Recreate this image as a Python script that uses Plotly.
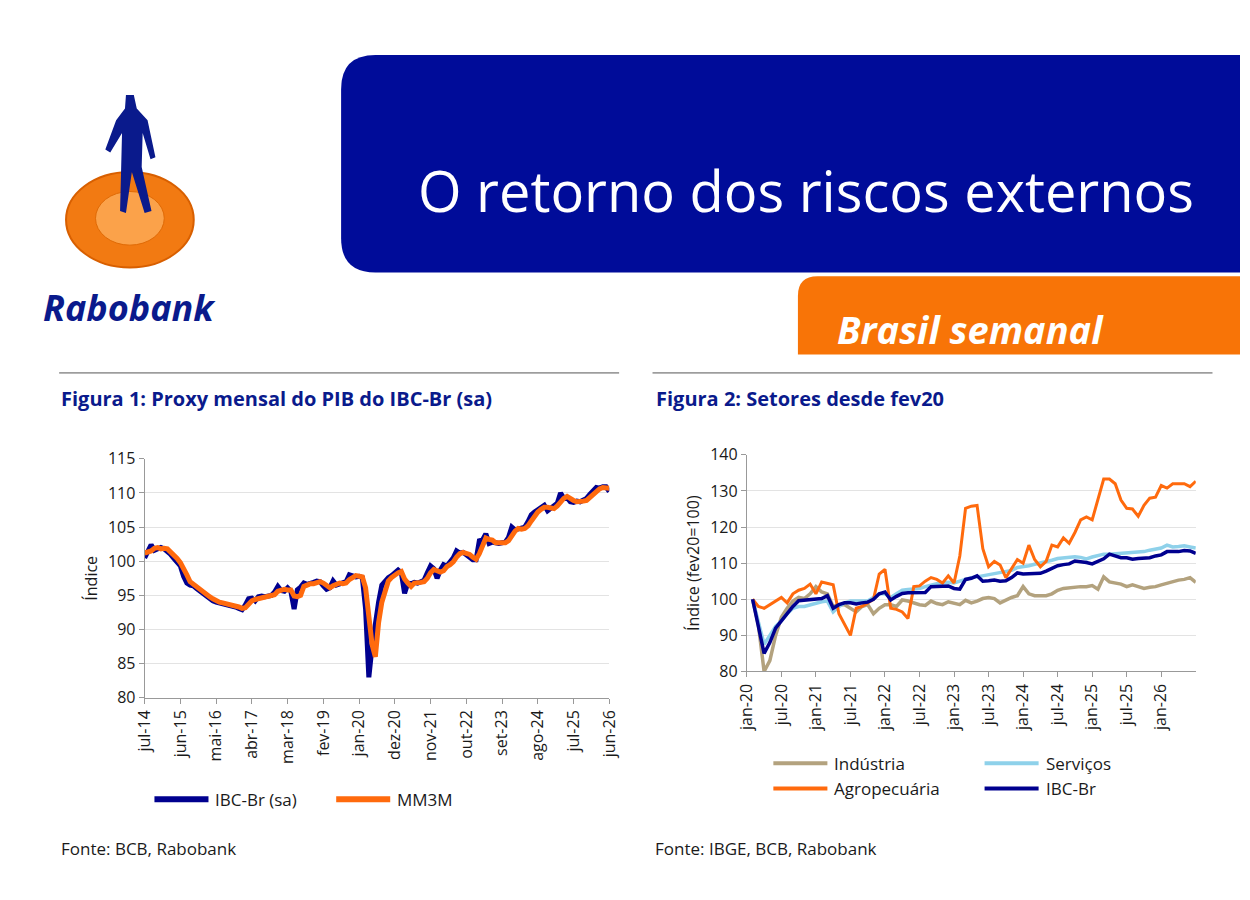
import plotly.graph_objects as go

W, H = 1250, 900
def px(x): return x / W
def py(y): return 1 - y / H

# ---------- Figure 1 data ----------
f1_ticklabels = ["jul-14","jun-15","mai-16","abr-17","mar-18","fev-19","jan-20","dez-20","nov-21","out-22","set-23","ago-24","jul-25","jun-26"]
ibc_sa = [100.5,101.6,102.4,101.6,101.9,102.0,101.8,101.5,101.0,100.4,99.8,99.3,
          97.8,96.8,96.5,96.4,96.0,95.6,95.2,94.8,94.5,94.2,94.0,93.9,
          93.8,93.7,93.5,93.4,93.3,93.1,92.9,93.6,94.5,94.6,94.2,94.8,
          94.9,94.8,94.9,95.0,95.5,96.3,95.7,95.6,96.1,95.6,93.0,95.8,
          96.2,96.8,96.6,96.7,96.9,97.1,97.0,96.4,95.9,96.1,97.1,96.5,
          96.7,96.8,97.0,98.0,97.9,97.7,97.8,97.6,93.0,83.0,87.5,91.5,
          94.0,96.5,97.2,97.6,97.9,98.4,98.7,98.3,95.3,96.8,96.7,96.9,
          96.8,97.0,97.2,98.3,99.3,98.9,97.5,98.7,99.5,99.3,99.8,100.5,
          101.5,101.2,101.3,101.0,100.6,100.2,100.2,103.0,103.1,104.0,102.6,102.8,
          102.7,102.6,102.7,102.8,103.5,105.0,104.6,104.7,104.8,105.0,105.8,106.8,
          107.2,107.6,108.0,108.2,107.4,107.8,108.0,108.5,110.0,109.2,109.3,108.7,
          108.6,108.8,108.7,108.9,109.2,109.8,110.3,110.8,110.7,110.9,110.9,110.2]
mm3m = [101.2,101.3,101.5,101.9,102.0,101.8,101.9,101.8,101.4,101.0,100.4,99.8,
        99.0,98.0,97.0,96.6,96.3,96.0,95.6,95.2,94.8,94.5,94.2,94.0,
        93.9,93.8,93.7,93.5,93.4,93.3,93.1,93.2,93.7,94.2,94.4,94.5,
        94.6,94.8,94.9,94.9,95.1,95.6,95.8,95.9,95.8,95.8,94.9,94.8,
        95.0,96.3,96.5,96.7,96.7,96.9,97.0,96.8,96.4,96.1,96.4,96.6,
        96.8,96.7,96.8,97.3,97.6,97.9,97.8,97.7,96.1,91.2,87.8,86.0,
        91.0,94.0,95.9,97.1,97.6,98.0,98.3,98.5,97.4,96.8,96.3,96.8,
        96.8,96.9,97.0,97.5,98.3,98.8,98.6,98.4,98.6,99.2,99.5,99.9,
        100.6,101.1,101.3,101.2,101.0,100.6,100.3,101.1,102.1,103.4,103.2,103.1,
        102.7,102.7,102.7,102.7,103.0,103.8,104.4,104.8,104.7,104.8,105.2,105.9,
        106.6,107.2,107.6,107.9,107.9,107.8,107.7,108.1,108.8,109.2,109.5,109.1,
        108.9,108.7,108.7,108.8,108.9,109.3,109.8,110.3,110.6,110.8,110.8,110.7]
f1_x = list(range(len(ibc_sa)))
f1_tickvals = [i * 11 for i in range(len(f1_ticklabels))]

# ---------- Figure 2 data (months since jan-20, starting fev-20) ----------
f2_ticklabels = ["jan-20","jul-20","jan-21","jul-21","jan-22","jul-22","jan-23","jul-23","jan-24","jul-24","jan-25","jul-25","jan-26"]
f2_tickvals = [i * 6 for i in range(len(f2_ticklabels))]
industria = [100,93,80,83,90,95,97.5,99.5,100.5,100.2,101.5,103.5,
             102,101.5,98,98.5,98.5,97.5,96.5,98,98.5,96,97.5,98.5,
             98.5,98,99.8,99.5,99,98.5,98.3,99.5,98.8,98.5,99.3,98.8,
             98.5,99.7,99,99.5,100.2,100.5,100.2,99,99.8,100.5,101,103.5,
             101.5,101,101,101,101.5,102.5,103,103.2,103.2,103.5,103.5,103.8,
             102.8,106.2,104.8,104.5,104.2,103.5,104,103.5,103,103.3,103.5,104,
             104.5,105,105.3,105.5,106,104.7]
servicos = [100,94,87.5,90,92.5,94,96,97.5,98,98,98.5,99,
            99.3,99.5,96.5,98,99,99.5,99.5,99.3,99.5,100.5,101.5,101.5,
            100.5,101.5,102.5,102.7,102.8,103,103.5,104,104.3,104.5,104.7,104.5,
            105,105.5,106,106.2,106.5,106.8,107,107.2,107.5,108,108.8,109,
            109.3,109.7,110,110.3,110.8,111.3,111.5,111.7,111.8,111.6,111.2,111.7,
            112.2,112.5,112.5,112.6,112.8,112.7,112.9,113,113.2,113.6,113.8,114.2,
            115,114.5,114.6,114.8,114.5,114.2]
agro = [100,98,97.5,98.5,99.5,100.5,99,101.5,102.5,103,104.2,101.5,
        104.8,104.5,104,96,93,90,97.5,98,99,100,107,108.3,
        97.5,97.2,96.5,94.7,103.5,103.7,105,106,105.5,104.5,106.5,104.5,
        112,125.2,125.8,126,114,109,110.5,109.5,106,108.5,111,110,
        115,111,109,110.5,115,114.5,117,115.5,118.5,122,122.8,122,
        128,133.3,133.3,132,127.5,125.2,125,123,126,128,128.3,131.5,
        130.8,132,132,132,131.2,132.7]
ibc = [100,93,85,88,92,94,96,98,99.6,99.8,99.9,100,
       100.2,101,97.5,98.5,99,99,98.7,99,99.2,100,101.5,102,
       99.8,100.8,101.6,101.8,101.8,101.8,101.9,103.5,103.5,103.6,103.7,103.0,
       102.8,105.5,105.8,106.5,105,105.1,105.3,105,105.1,106,107.3,107,
       107.1,107.2,107.2,107.8,108.5,109.3,109.6,109.8,110.6,110.5,110.2,109.8,
       110.6,111.2,112.5,112,111.5,111.5,111.1,111.3,111.4,111.5,112,112.3,
       113.2,113.1,113.2,113.5,113.4,112.7]
f2_x = list(range(1, len(ibc) + 1))

BLUE = "#00008F"; ORANGE = "#FF6A0D"; TAN = "#B3A27E"; LBLUE = "#8ED1EA"
TXT = "#1a1a1a"; FONT = "Open Sans"

fig = go.Figure()
fig.add_trace(go.Scatter(x=f1_x, y=ibc_sa, mode="lines", line=dict(color=BLUE, width=5), xaxis="x", yaxis="y", showlegend=False))
fig.add_trace(go.Scatter(x=f1_x, y=mm3m, mode="lines", line=dict(color=ORANGE, width=5), xaxis="x", yaxis="y", showlegend=False))
fig.add_trace(go.Scatter(x=f2_x, y=industria, mode="lines", line=dict(color=TAN, width=3.5), xaxis="x2", yaxis="y2", showlegend=False))
fig.add_trace(go.Scatter(x=f2_x, y=servicos, mode="lines", line=dict(color=LBLUE, width=3.5), xaxis="x2", yaxis="y2", showlegend=False))
fig.add_trace(go.Scatter(x=f2_x, y=agro, mode="lines", line=dict(color=ORANGE, width=3), xaxis="x2", yaxis="y2", showlegend=False))
fig.add_trace(go.Scatter(x=f2_x, y=ibc, mode="lines", line=dict(color=BLUE, width=3.5), xaxis="x2", yaxis="y2", showlegend=False))

axcommon = dict(showline=True, linecolor="#999", ticks="outside", tickcolor="#999", ticklen=5, tickfont=dict(size=16, color=TXT, family=FONT))
fig.update_layout(
    autosize=True, margin=dict(l=0, r=0, t=0, b=0),
    paper_bgcolor="white", plot_bgcolor="white", font=dict(family=FONT, color=TXT),
    xaxis=dict(domain=[px(135), px(608)], range=[0, 143], tickvals=f1_tickvals, ticktext=f1_ticklabels,
               tickangle=-90, showgrid=False, zeroline=False, **axcommon),
    yaxis=dict(domain=[py(704), py(459)], range=[80, 115], dtick=5, showgrid=True, gridcolor="#e3e3e3",
               zeroline=False, title=dict(text="Índice", font=dict(size=16, color=TXT), standoff=6), **axcommon),
    xaxis2=dict(domain=[px(748), px(1205)], range=[0, 78], tickvals=f2_tickvals, ticktext=f2_ticklabels,
                tickangle=-90, showgrid=False, zeroline=False, anchor="y2", **axcommon),
    yaxis2=dict(domain=[py(677), py(455)], range=[80, 140], dtick=10, showgrid=True, gridcolor="#e3e3e3",
                zeroline=False, anchor="x2", title=dict(text="Índice (fev20=100)", font=dict(size=16, color=TXT), standoff=6), **axcommon),
)

shapes = []
annos = []
# banner
shapes.append(dict(type="path", xref="paper", yref="paper",
    path=f"M {px(370)},{py(45)} L {px(1250)},{py(45)} L {px(1250)},{py(268)} L {px(370)},{py(268)} Q {px(335)},{py(268)} {px(335)},{py(233)} L {px(335)},{py(80)} Q {px(335)},{py(45)} {px(370)},{py(45)} Z",
    fillcolor="#000C99", line=dict(width=0)))
annos.append(dict(text="O retorno dos riscos externos", x=px(808), y=py(183), xref="paper", yref="paper",
    showarrow=False, font=dict(size=56, color="white", family="Open Sans"), xanchor="center", yanchor="middle"))
# orange tab
shapes.append(dict(type="path", xref="paper", yref="paper",
    path=f"M {px(820)},{py(272)} L {px(1250)},{py(272)} L {px(1250)},{py(352)} L {px(800)},{py(352)} L {px(800)},{py(292)} Q {px(800)},{py(272)} {px(820)},{py(272)} Z",
    fillcolor="#F87407", line=dict(width=0)))
annos.append(dict(text="<b><i>Brasil semanal</i></b>", x=px(976), y=py(326), xref="paper", yref="paper",
    showarrow=False, font=dict(size=38, color="white", family="Open Sans"), xanchor="center", yanchor="middle"))
# logo
shapes.append(dict(type="circle", xref="paper", yref="paper", x0=px(55), x1=px(185), y0=py(263), y1=py(165),
    fillcolor="#F27A12", line=dict(color="#D85F00", width=2)))
shapes.append(dict(type="circle", xref="paper", yref="paper", x0=px(85), x1=px(155), y0=py(240), y1=py(185),
    fillcolor="#FBA24A", line=dict(color="#E06A05", width=1)))
shapes.append(dict(type="path", xref="paper", yref="paper",
    path=f"M {px(116)},{py(86)} L {px(124)},{py(86)} L {px(127)},{py(100)} L {px(138)},{py(112)} L {px(146)},{py(150)} L {px(141)},{py(152)} L {px(133)},{py(125)} L {px(132)},{py(160)} L {px(142)},{py(205)} L {px(135)},{py(207)} L {px(122)},{py(165)} L {px(116)},{py(207)} L {px(110)},{py(205)} L {px(112)},{py(125)} L {px(100)},{py(145)} L {px(95)},{py(142)} L {px(106)},{py(112)} L {px(115)},{py(100)} Z",
    fillcolor="#0A1A8C", line=dict(width=0)))
annos.append(dict(text="<b><i>Rabobank</i></b>", x=px(120), y=py(304), xref="paper", yref="paper",
    showarrow=False, font=dict(size=36, color="#0A1A8C", family="Open Sans"), xanchor="center", yanchor="middle"))
# separators
shapes.append(dict(type="line", xref="paper", yref="paper", x0=px(48), x1=px(618), y0=py(371), y1=py(371), line=dict(color="#555", width=1)))
shapes.append(dict(type="line", xref="paper", yref="paper", x0=px(652), x1=px(1222), y0=py(371), y1=py(371), line=dict(color="#555", width=1)))
annos.append(dict(text="<b>Figura 1: Proxy mensal do PIB do IBC-Br (sa)</b>", x=px(48), y=py(397), xref="paper", yref="paper",
    showarrow=False, xanchor="left", yanchor="middle", font=dict(size=20, color="#0A1A8C")))
annos.append(dict(text="<b>Figura 2: Setores desde fev20</b>", x=px(653), y=py(397), xref="paper", yref="paper",
    showarrow=False, xanchor="left", yanchor="middle", font=dict(size=20, color="#0A1A8C")))
# legends
def leg(x, y, color, label, w):
    shapes.append(dict(type="line", xref="paper", yref="paper", x0=px(x), x1=px(x + 55), y0=py(y), y1=py(y), line=dict(color=color, width=w)))
    annos.append(dict(text=label, x=px(x + 60), y=py(y), xref="paper", yref="paper", showarrow=False,
                      xanchor="left", yanchor="middle", font=dict(size=17, color=TXT)))
leg(145, 808, BLUE, "IBC-Br (sa)", 6)
leg(330, 808, ORANGE, "MM3M", 6)
leg(775, 771, TAN, "Indústria", 4)
leg(990, 771, LBLUE, "Serviços", 4)
leg(775, 797, ORANGE, "Agropecuária", 4)
leg(990, 797, BLUE, "IBC-Br", 4)
annos.append(dict(text="Fonte: BCB, Rabobank", x=px(48), y=py(858), xref="paper", yref="paper", showarrow=False,
                  xanchor="left", yanchor="middle", font=dict(size=17, color=TXT)))
annos.append(dict(text="Fonte: IBGE, BCB, Rabobank", x=px(652), y=py(858), xref="paper", yref="paper", showarrow=False,
                  xanchor="left", yanchor="middle", font=dict(size=17, color=TXT)))

fig.update_layout(shapes=shapes, annotations=annos)
fig.write_html("out.html", default_width="100vw", default_height="100vh",
               config={"displayModeBar": False, "responsive": True})
with open("out.html", encoding="utf-8") as f:
    html = f.read()
html = html.replace("<head>", "<head><style>html,body{margin:0;padding:0;overflow:hidden;}</style>", 1)
with open("out.html", "w", encoding="utf-8") as f:
    f.write(html)
